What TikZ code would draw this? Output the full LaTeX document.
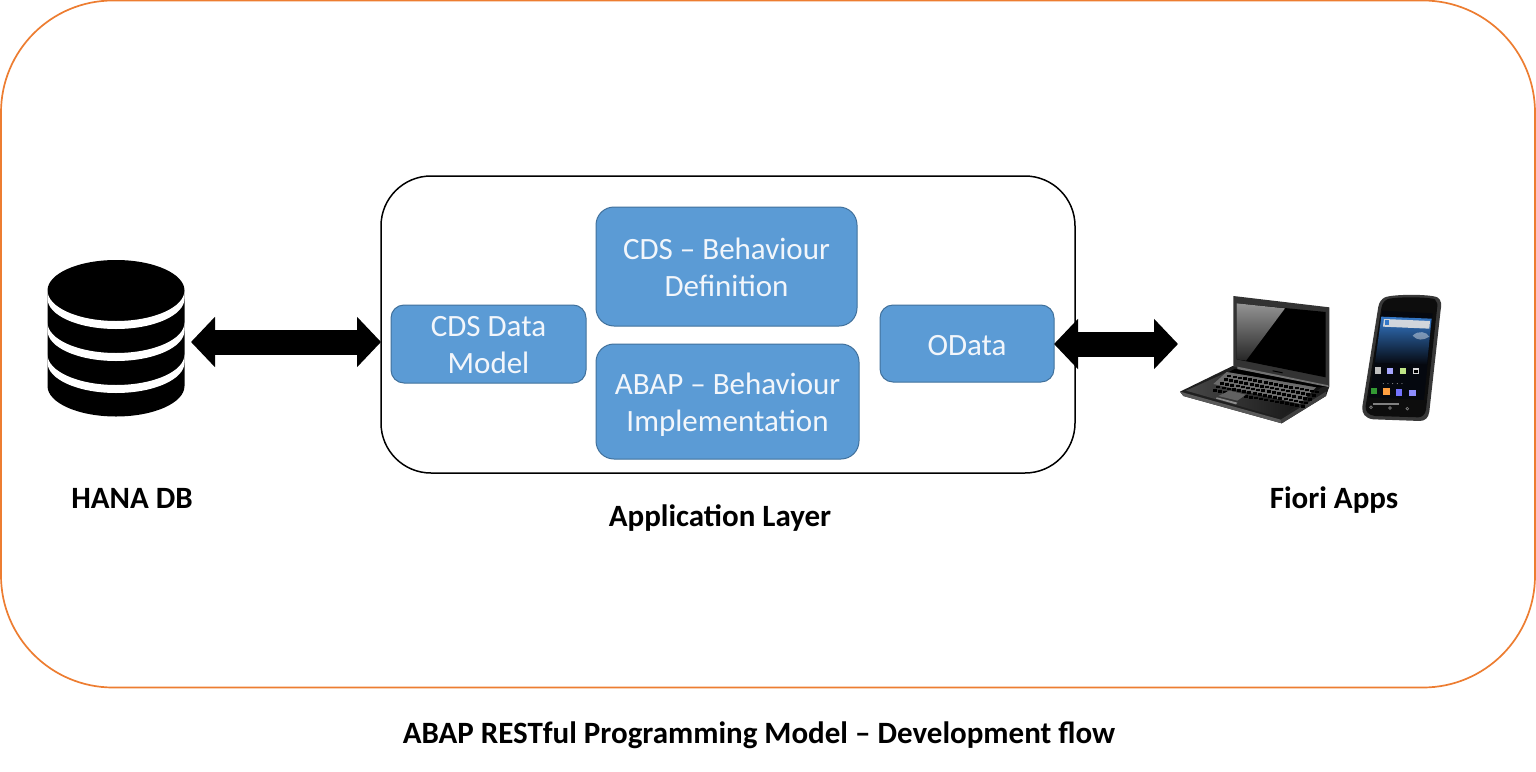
\documentclass[tikz,border=0pt]{standalone}
\usepackage{fontspec}
\setmainfont{Carlito}
\usetikzlibrary{arrows.meta}
\definecolor{boxblue}{HTML}{5B9BD5}
\definecolor{boxedge}{HTML}{41719C}
\definecolor{frameorange}{HTML}{ED7D31}
\definecolor{boxtext}{HTML}{F2F6FB}
\definecolor{skyblue}{HTML}{3478C8}
\definecolor{navy}{HTML}{0A2A5C}
\definecolor{nearblack}{HTML}{05080F}
\tikzset{
  bluebox/.style={rectangle,rounded corners=#1,draw=boxedge,line width=1pt,fill=boxblue,text=boxtext,
    font=\fontsize{31}{37}\selectfont,align=center,inner sep=0pt,outer sep=0pt,anchor=north west},
  bluebox/.default=13pt,
  caption/.style={font=\fontsize{31}{36}\selectfont\bfseries,text=black,inner sep=0pt},
  blockarrow/.style={line width=25pt,black,{Triangle[length=24pt,width=49pt]}-{Triangle[length=24pt,width=49pt]},shorten >=0pt,shorten <=0pt},
  holder/.style={rectangle,inner sep=0pt,outer sep=0pt,anchor=north west},
}
\begin{document}
\begin{tikzpicture}[x=1pt,y=-1pt]
\useasboundingbox (0,0) rectangle (1536,771);
\fill[white] (0,0) rectangle (1536,771);
% outer frame
\node[holder,draw=frameorange,line width=1.7pt,rounded corners=112pt,minimum width=1534pt,minimum height=687pt] (frame) at (1,0.5) {};
% application layer
\node[holder,draw=black,line width=1.5pt,rounded corners=50pt,minimum width=694pt,minimum height=297pt] (applayer) at (381,176) {};
\node[bluebox,minimum width=195pt,minimum height=78pt] (cdsmodel) at (391,305) {\rule{0pt}{23pt}CDS Data\\Model};
\node[bluebox=18pt,minimum width=261pt,minimum height=119pt] (behdef) at (596,207) {\rule{0pt}{23pt}CDS -- Behaviour\\Definition};
\node[bluebox=18pt,minimum width=263pt,minimum height=115pt] (behimpl) at (596,344) {\rule{0pt}{27pt}ABAP -- Behaviour\\Implementation};
\node[bluebox,minimum width=174pt,minimum height=77pt] (odata) at (880,305) {\rule{0pt}{24pt}OData};
% database icon
\node[holder,minimum width=144pt,minimum height=157pt] (db) at (47,260) {};
\fill[black] (47.5,290.5) -- (47.5,386) arc[x radius=68.5,y radius=30.5,start angle=180,end angle=0] -- (184.5,290.5) arc[x radius=68.5,y radius=30.5,start angle=0,end angle=-180] -- cycle;
\foreach \cy in {290.5,322.5,354.5}
  \fill[white] (47.5,\cy) arc[x radius=68.5,y radius=30.5,start angle=180,end angle=0] -- ++(0,8) arc[x radius=68.5,y radius=30.5,start angle=0,end angle=180] -- cycle;
% devices holder
\node[holder,minimum width=264pt,minimum height=130pt] (devices) at (1178,293) {};
\begin{scope}[shift={(1160,270)},x=.3333pt,y=-.3333pt]
  % laptop base
  \fill[black!88] (60,365) -- (218,288) -- (508,350) -- (498,378) -- (365,460) -- (70,378) -- cycle;
  \fill[black!65] (60,365) -- (70,378) -- (365,460) -- (362,449) -- cycle;
  \fill[black!75] (362,449) -- (365,460) -- (498,378) -- (498,365) -- cycle;
  \shade[left color=black!72,right color=black!95] (78,362) -- (225,296) -- (490,348) -- (360,443) -- cycle;
  % keyboard
  \fill[black!58] (160,342) -- (200,306) -- (470,350) -- (420,402) -- cycle;
  \foreach \r in {0,...,4}
    \foreach \k in {0,...,17}
      \fill[black] ({202-\r*11+\k*15.5},{314+\k*2.8+\r*11}) rectangle ++(12,8);
  % hinge
  \fill[black] (225,296) -- (505,350) -- (470,352) -- (205,306) -- cycle;
  % touch pad
  \fill[black!62] (175,378) -- (208,362) -- (258,374) -- (232,392) -- cycle;
  \fill[black!45] (170,382) -- (232,398) -- (228,403) -- (168,386) -- cycle;
  % lid
  \fill[black!80] (220,78) -- (508,112) -- (508,350) -- (220,290) -- cycle;
  \fill[black] (230,100) -- (497,126) -- (497,322) -- (230,268) -- cycle;
  \shade[top color=black!42,bottom color=black!85] (230,100) -- (375,115) -- (258,272) -- (230,268) -- cycle;
  \fill[black!55] (232,290) -- (505,346) -- (505,351) -- (232,297) -- cycle;
  \fill[black] (338,301) -- (368,307) -- (368,310) -- (338,304) -- cycle;
  % phone
  \fill[black!78] (675,82) .. controls (700,72) and (810,72) .. (832,82) .. controls (845,90) and (845,105) .. (842,120) -- (808,425) .. controls (805,445) and (795,452) .. (780,453) -- (640,448) .. controls (615,445) and (605,430) .. (607,410) -- (655,110) .. controls (658,95) and (665,87) .. (675,82) -- cycle;
  \fill[black!95] (682,88) .. controls (700,80) and (805,80) .. (825,88) .. controls (833,95) and (833,105) .. (831,118) -- (798,420) .. controls (795,435) and (785,442) .. (775,442) -- (645,438) .. controls (625,435) and (615,425) .. (617,408) -- (664,115) .. controls (667,100) and (672,93) .. (682,88) -- cycle;
  % phone screen
  \fill[nearblack] (667,122) -- (818,130) -- (792,390) -- (627,382) -- cycle;
  \shade[top color=skyblue,middle color=navy,bottom color=nearblack] (664,140) -- (815,146) -- (801,284) -- (645,278) -- cycle;
  \fill[black!12,opacity=.92] (672,147) -- (810,153) -- (808,176) -- (669,170) -- cycle;
  \fill[white,opacity=.4] (758,197) .. controls (775,180) and (800,185) .. (808,200) .. controls (790,212) and (770,212) .. (758,197) -- cycle;
  \fill[skyblue] (674,150) rectangle (686,166);
  % app icons
  \fill[black!25] (645,292) rectangle (664,311);
  \fill[blue!35!white] (680,293) rectangle (700,311);
  \fill[yellow!50!green!50] (719,294) rectangle (739,312);
  \fill[black!15] (758,295) rectangle (778,313);
  \fill[black] (763,300) rectangle (773,310);
  \fill[green!50!black!80] (633,354) rectangle (652,373);
  \fill[orange!75!white] (670,355) rectangle (689,374);
  \fill[blue!55!white] (707,358) rectangle (726,377);
  \fill[blue!45!white] (748,360) rectangle (767,379);
  \foreach \i in {0,...,4} \fill[white!70!black] ({670+\i*14},341) circle[radius=1.5];
  \fill[black!50] (640,398) rectangle (716,404);
  \foreach \a/\b in {633/412,690/414,742/416} \draw[black!50,line width=.7pt] (\a,\b) circle[radius=4];
\end{scope}
% arrows
\draw[blockarrow] (db.east |- 0,342) -- (applayer.west |- 0,342);
\draw[blockarrow] (odata.east |- 0,344) -- (devices.west |- 0,344);
% captions
\node[caption] (hana) at (132,498) {HANA DB};
\node[caption] (applabel) at (720,518) {Application Layer};
\node[caption] (fiori) at (1334,500) {Fiori Apps};
\node[caption] (title) at (759,735) {ABAP RESTful Programming Model -- Development flow};
\end{tikzpicture}
\end{document}
